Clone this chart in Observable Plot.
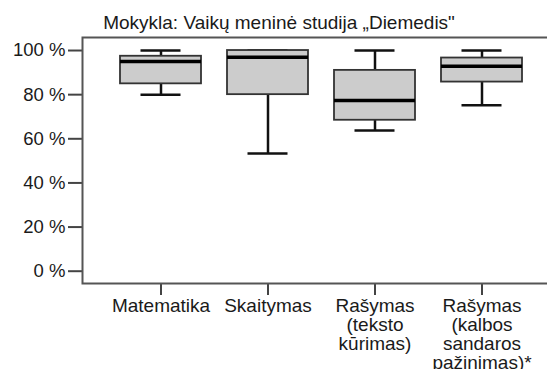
<!DOCTYPE html>
<html>
<head>
<meta charset="utf-8">
<script src="https://cdn.jsdelivr.net/npm/d3@7"></script>
<script src="https://cdn.jsdelivr.net/npm/@observablehq/plot@0.6"></script>
<style>
  html, body { margin: 0; padding: 0; background: #fff; }
  #chart svg { display: block; }
</style>
</head>
<body>
<div id="chart"></div>
<script>
const title = "Mokykla: Vaikų meninė studija „Diemedis\"";
const categories = [
  "Matematika",
  "Skaitymas",
  "Rašymas\n(teksto\nkūrimas)",
  "Rašymas\n(kalbos\nsandaros\npažinimas)*"
];
const mins    = [80, 53.3, 63.8, 75.2];
const q1s     = [84.9, 80, 68.4, 85.7];
const medians = [95, 97, 77.4, 92.9];
const q3s     = [97.4, 100, 91, 96.6];
const maxs    = [100, 100, 100, 100];
const yTicks  = [0, 20, 40, 60, 80, 100];

const data = categories.map((c, i) => ({
  cat: c, min: mins[i], q1: q1s[i], med: medians[i], q3: q3s[i], max: maxs[i]
}));

const font = "'Liberation Sans', Arial, sans-serif";

const chart = Plot.plot({
  width: 547,
  height: 369,
  marginLeft: 82,
  marginRight: -13,
  marginTop: 37,
  marginBottom: 86,
  style: { fontFamily: font, color: "#1a1a1a", background: "#fff", overflow: "visible" },
  x: { type: "band", domain: categories, paddingInner: 0.239, paddingOuter: 0.34, label: null },
  y: { domain: [-5.57, 105.9], label: null },
  marks: [
    Plot.axisY({
      ticks: yTicks, tickFormat: d => d + " %", tickSize: 14, tickPadding: 3,
      fontSize: 18.5, stroke: "#444", strokeWidth: 2, label: null
    }),
    Plot.axisX({
      tickSize: 12, tickPadding: 3, fontSize: 19, lineHeight: 1.0,
      stroke: "#444", strokeWidth: 2, label: null
    }),
    Plot.ruleX(data, { x: "cat", y1: "q3", y2: "max", stroke: "#111", strokeWidth: 2.5 }),
    Plot.ruleX(data, { x: "cat", y1: "min", y2: "q1", stroke: "#111", strokeWidth: 2.5 }),
    Plot.tickY(data, { x: "cat", y: "max", stroke: "#111", strokeWidth: 2.5, insetLeft: 20.5, insetRight: 20.5 }),
    Plot.tickY(data, { x: "cat", y: "min", stroke: "#111", strokeWidth: 2.5, insetLeft: 20.5, insetRight: 20.5 }),
    Plot.barY(data, { x: "cat", y1: "q1", y2: "q3", fill: "#cccccc", stroke: "#333", strokeWidth: 1.8 }),
    Plot.tickY(data, { x: "cat", y: "med", stroke: "#000", strokeWidth: 3.5 }),
    Plot.frame({ stroke: "#555", strokeWidth: 2 }),
    Plot.text([title], {
      text: d => d, frameAnchor: "top-left", dx: 196.5, dy: -15,
      textAnchor: "middle", lineAnchor: "middle", fontSize: 19, fill: "#1a1a1a"
    })
  ]
});
document.getElementById("chart").appendChild(chart);
</script>
</body>
</html>
